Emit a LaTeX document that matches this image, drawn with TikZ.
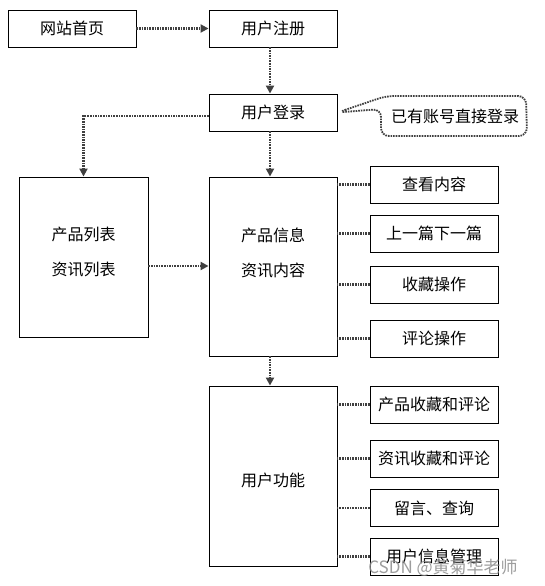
\documentclass[tikz,border=0pt]{standalone}
\usepackage{fontspec}
\setmainfont{Noto Sans CJK SC}
\usetikzlibrary{arrows.meta}
\begin{document}
\begin{tikzpicture}[x=1pt,y=-1pt,
  box/.style={draw, line width=0.9pt, minimum width=128pt, minimum height=37pt, inner sep=0pt, font=\fontsize{16}{18}\selectfont},
  txt/.style={inner sep=0pt, font=\fontsize{16}{35}\selectfont, align=center},
  conn/.style={line width=2.1pt, dash pattern=on 1.6pt off 1pt, black!75},
  arr/.style={conn, -{Triangle[width=8pt,length=8pt]}}]
\useasboundingbox (0,0) rectangle (544,586);
\fill[white] (0,0) rectangle (544,586);
% top row
\node[box] (n1) at (72,28.5) {网站首页};
\node[box] (n2) at (273,28.5) {用户注册};
\node[box] (n3) at (273,112.5) {用户登录};
% callout
\node[txt] (co) at (455,116) {已有账号直接登录};
\draw[conn, line width=1.8pt, rounded corners=8pt] (n3.east) -- (386,96) -- (526,96) -- (527,136) -- (381,136) -- (381,109) -- cycle;
% big boxes
\node[box, minimum width=129pt, minimum height=160pt] (list) at (83.5,257) {};
\node[txt] (listt) at (83.5,252.5) {产品列表\\资讯列表};
\node[box, minimum height=179pt] (info) at (273,266.5) {};
\node[txt] (infot) at (273,252.5) {产品信息\\资讯内容};
\node[box, minimum height=180pt] (func) at (273,476) {};
\node[txt] (funct) at (273,480) {用户功能};
% right column
\node[box] (r1) at (434,184.5) {查看内容};
\node[box] (r2) at (434,233.5) {上一篇下一篇};
\node[box] (r3) at (434,284.5) {收藏操作};
\node[box] (r4) at (434,338.5) {评论操作};
\node[box] (f1) at (434,404.5) {产品收藏和评论};
\node[box] (f2) at (434,458.5) {资讯收藏和评论};
\node[box] (f3) at (434,508) {留言、查询};
\node[box] (f4) at (434,556.5) {用户信息管理};
% connectors
\foreach \r in {r1,r2,r3,r4} \draw[conn] (\r.west) -- (\r.west -| info.east);
\foreach \r in {f1,f2,f3,f4} \draw[conn] (\r.west) -- (\r.west -| func.east);
% arrows
\draw[arr] (n1) -- (n2);
\draw[arr] ([xshift=-3pt]n2.south) -- ([xshift=-3pt]n3.north);
\draw[arr] ([xshift=-3pt]n3.south) -- ([xshift=-3pt]info.north);
\draw[arr] ([yshift=-3.5pt]n3.west) -| (list.north);
\draw[arr] ([yshift=-9pt]list.east) -- ([yshift=-9pt]list.east -| info.west);
\draw[arr] ([xshift=-3pt]info.south) -- ([xshift=-3pt]func.north);
% watermark
\node[inner sep=0pt, text=black!45, opacity=0.85, font=\fontsize{17}{20}\selectfont] (wm) at (443,568) {CSDN @黄菊华老师};
\end{tikzpicture}
\end{document}
